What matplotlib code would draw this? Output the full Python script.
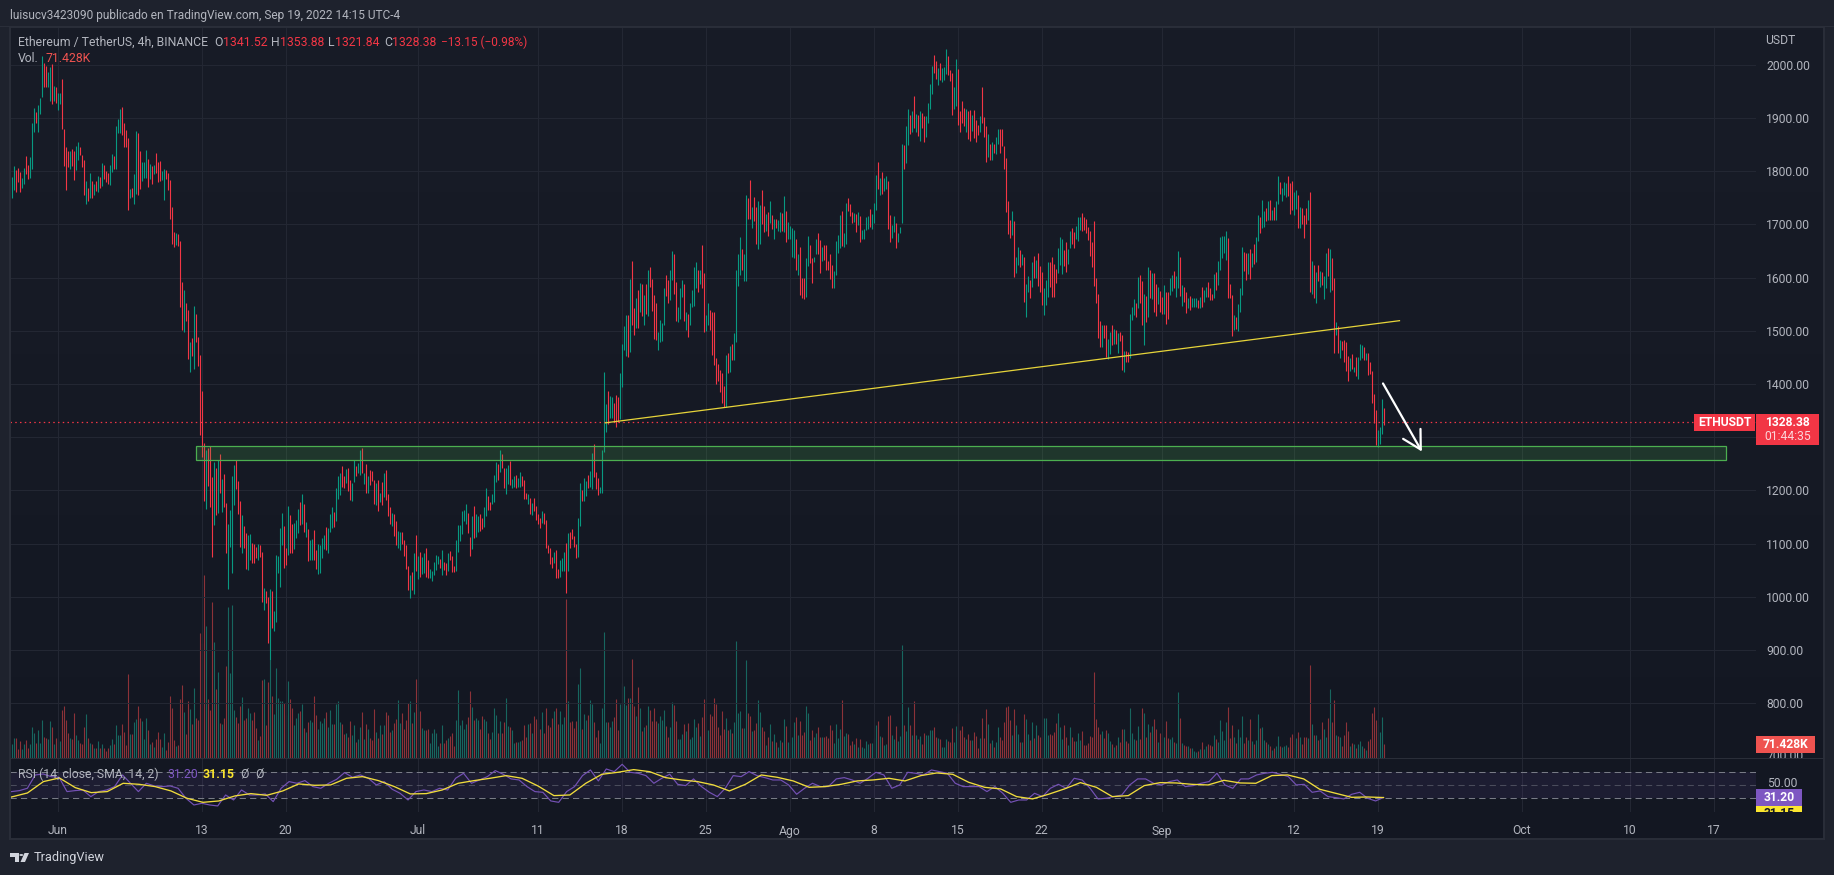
import numpy as np
import matplotlib
matplotlib.use("Agg")
import matplotlib.pyplot as plt
from matplotlib.colors import LinearSegmentedColormap
from matplotlib.patches import Rectangle, Polygon, Circle
from matplotlib.transforms import Bbox

plt.rcParams['font.family'] = ['Roboto', 'DejaVu Sans']

# 4h candles, ETHUSDT
highs = [
    1789,1809,1803,1806,1798,1788,1806,1828,1811,1826, 1890,1919,1912,1924,1937,2016,2004,1998,1987,1995,
    2001,1960,1959,1947,1947,1973,1880,1845,1838,1837, 1841,1838,1848,1854,1846,1830,1821,1782,1769,1796,
    1782,1776,1782,1791,1789,1816,1812,1801,1796,1812, 1832,1829,1885,1898,1917,1920,1890,1877,1863,1766,
    1769,1794,1875,1872,1838,1818,1818,1840,1823,1813, 1810,1812,1834,1818,1819,1801,1805,1802,1796,1783,
    1732,1686,1683,1682,
    1669,1591,1577,1552,1540,1478,1486,1547,1532,1488,1454,
    1386,1289,1276,1280,1283,1225,1253,1243,1258,1268, 1221,1231,1176,1137,1163,1227,1248,1257,1218,1180,
    1154,1133,1119,1116,1118,1102,1100,1093,1099,1097, 1084,1016,1010,999,1014,1010,973,1079,1077,1129,
    1157,1133,1091,1171,1154,1137,1138,1144,1165,1179, 1193,1174,1140,1127,1107,1108,1126,1088,1099,1097,
    1110,1116,1132,1129,1156,1168,1160,1204,1227,1232, 1246,1227,1240,1242,1220,1213,1257,1246,1252,1276,
    1279,1233,1250,1227,1238,1237,1220,1213,1220,1196, 1215,1233,1238,1193,1169,1157,1156,1143,1124,1121,
    1122,1107,1097,1058,1041,1047,1083,1116,1077,1085, 1075,1082,1091,1069,1052,1049,1065,1079,1077,1071,
    1088,1066,1063,1082,1087,1077,1058,1107,1135,1135, 1162,1163,1174,1157,1112,1152,1171,1156,1151,1156,
    1149,1168,1204,1190,1179,1193,1229,1253,1250,1276, 1268,1242,1242,1248,1255,1221,1227,1229,1223,1234,
    1227,1220,1195,1193,1186,1177,1186,1171,1156,1148, 1161,1157,1144,1097,1091,1074,1085,1088,1052,1069,
    1072,1084,1102,1119,1121,1127,1114,1100,1148,1213, 1201,1223,1218,1229,1237,1270,1287,1235,1223,1206,
    1276,
    1422,1362,1387,1377,1376,1365,1380,1376,1421,1475, 1509,1530,1530,1597,1631,1543,1562,1577,1589,1588,
    1567,1588,1614,1620,1597,1567,1553,1498,1520,1515, 1580,1605,1595,1614,1650,1644,1591,1545,1581,1595,
    1587,1536,1531,1553,1577,1620,1629,1614,1614,1662, 1608,1530,1553,1539,1536,1536,1448,1437,1426,1420,
    1396,1454,1458,1471,1475,1495,1614,1644,1676,1653, 1644,1755,1749,1783,1732,1751,1732,1744,1736,1765,
    1735,1720,1723,1744,1718,1710,1711,1708,1723,1721, 1753,1725,1704,1697,1694,1689,1672,1644,1658,1599,
    1599,1636,1678,1661,1636,1639,1672,1683,1671,1658, 1662,1662,1631,1644,1624,1612,1669,1680,1718,1725,
    1683,1741,1749,1738,1723,1721,1719,1724,1716,1689, 1692,1713,1716,1729,1719,1740,1793,1817,1787,1798,
    1787,1790,1782,1718,1699,1716,1702,1684,1696,
    1852,1849,1885,1917,1906,1913,1941,1907,1906,1913, 1909,1904,1904,1929,1964,1998,2018,2007,1994,2003,
    1993,1996,2029,2016,1990,1984,1959,2011,1992,1914, 1932,1918,1916,1914,1915,1906,1915,1897,1887,1904,
    1959,1901,1885,1870,1852,1854,1852,1865,1880,1879, 1879,1847,1825,1744,1708,1725,1706,1638,1657,1651,
    1644,1638,1587,1603,1595,1629,1640,1633,1646,1622, 1610,1580,1595,1629,1629,1638,1625,1617,1655,1677,
    1672,1651,1667,1653,1688,1693,1686,1697,1713,1714, 1721,1714,1711,1696,1688,1667,1706,1599,1569,1518,
    1510,1511,1510,1484,1498,1511,1503,1501,1495,1498, 1492,1462,1462,1461,1532,1545,1559,1552,1602,1605,
    1594,1569,1565,1619,1614,1608,1609,1587,1583,1575, 1563,1586,1573,1572,1599,1605,1612,1603,1650,1639,
    1586,1582,1573,1561,1565,1561,1562,1561,1557,1564, 1582,1577,1582,1592,1580,1570,1607,1611,1631,1677,
    1678,1678,1688,1674,1588,1567,1530,1525,1550,1581, 1657,1649,1647,1646,1653,1647,1663,1677,1717,1714,
    1746,1725,1731,1744,1745,1727,1733,1744,1790,1779, 1769,1779,1777,1790,1777,1781,1761,1765,1755,1732,
    1730,1718,1730,1746,1760,1631,1623,1610,1623,1612, 1611,1603,1646,1655,1654,1636,1599,1517,1509,1483,
    1480,1483,1478,1453,1449,1456,1432,1451,1450,1475, 1473,1469,1459,1459,1442,1424,1382,1352,1313,1320,
    1371,1354,
]
lows = [
    1749,1765,1761,1780,1761,1769,1776,1794,1786,1787, 1804,1873,1890,1873,1907,1940,1959,1959,1959,1932,
    1927,1932,1929,1915,1926,1880,1810,1765,1807,1804, 1809,1783,1803,1821,1831,1808,1756,1739,1744,1749,
    1749,1756,1763,1761,1769,1773,1785,1780,1776,1774, 1798,1804,1805,1871,1871,1868,1846,1846,1727,1749,
    1751,1738,1757,1756,1766,1781,1787,1787,1771,1785, 1776,1794,1796,1780,1782,1783,1746,1785,1765,1710,
    1663,1658,1661,1660,
    1545,1502,1497,1519,1447,1423,1453,1428,1478,1433,1304,
    1263,1181,1165,1208,1169,1075,1135,1154,1158,1196, 1160,1169,1083,1015,1094,1045,1173,1203,1156,1094,
    1083,1091,1052,1050,1069,1064,1064,1072,1070,1075, 990,975,989,914,881,941,936,953,1044,1019,
    1097,1054,1060,1079,1083,1082,1089,1110,1119,1135, 1137,1122,1113,1068,1069,1070,1069,1052,1043,1045,
    1072,1089,1088,1083,1121,1129,1132,1143,1184,1191, 1206,1204,1213,1198,1182,1181,1215,1227,1233,1229,
    1232,1212,1196,1196,1210,1218,1174,1173,1162,1179, 1173,1188,1182,1152,1137,1133,1114,1097,1091,1088,
    1099,1077,1053,1012,998,1013,1005,1049,1034,1037, 1043,1045,1037,1035,1035,1029,1041,1050,1062,1054,
    1041,1050,1041,1049,1069,1047,1046,1049,1085,1104, 1118,1143,1137,1119,1077,1089,1111,1112,1121,1124,
    1127,1132,1151,1164,1164,1174,1179,1215,1220,1235, 1243,1205,1193,1212,1210,1205,1206,1204,1207,1207,
    1208,1183,1183,1174,1156,1154,1162,1144,1137,1129, 1138,1137,1092,1083,1062,1054,1063,1035,1035,1038,
    1049,1049,1008,1049,1091,1108,1094,1072,1074,1134, 1181,1181,1190,1204,1206,1203,1226,1202,1191,1195,
    1196,
    1273,1310,1325,1337,1337,1329,1320,1329,1335,1395, 1463,1453,1450,1461,1511,1492,1506,1505,1536,1527,
    1511,1532,1527,1583,1537,1484,1483,1464,1478,1481, 1510,1566,1553,1557,1595,1570,1518,1517,1523,1563,
    1519,1502,1489,1511,1545,1547,1581,1573,1588,1580, 1498,1500,1511,1501,1454,1436,1400,1406,1385,1364,
    1356,1356,1421,1423,1446,1445,1478,1584,1605,1614, 1594,1594,1711,1711,1694,1707,1663,1654,1664,1701,
    1686,1688,1678,1702,1691,1672,1694,1688,1686,1688, 1686,1666,1672,1672,1639,1636,1615,1605,1567,1562,
    1560,1564,1622,1627,1590,1629,1645,1644,1608,1632, 1633,1614,1614,1597,1581,1581,1605,1647,1655,1660,
    1657,1664,1725,1716,1703,1705,1686,1699,1667,1672, 1672,1689,1692,1696,1692,1702,1727,1766,1755,1758,
    1762,1766,1691,1667,1675,1686,1656,1667,1684,
    1703,1804,1815,1849,1870,1874,1882,1874,1866,1857, 1881,1854,1865,1891,1917,1946,1985,1973,1962,1971,
    1968,1971,1982,1981,1969,1906,1917,1923,1887,1873, 1890,1884,1874,1860,1857,1876,1862,1854,1868,1874,
    1890,1865,1818,1826,1821,1821,1835,1833,1851,1835, 1847,1805,1724,1682,1674,1680,1602,1609,1624,1619,
    1624,1555,1525,1572,1562,1583,1599,1600,1584,1572, 1548,1530,1548,1564,1583,1564,1564,1589,1608,1624,
    1607,1621,1611,1625,1655,1663,1655,1672,1668,1689, 1688,1689,1684,1671,1640,1620,1584,1552,1487,1470,
    1470,1486,1451,1447,1456,1473,1476,1475,1459,1480, 1426,1423,1441,1442,1448,1521,1530,1525,1543,1552,
    1510,1473,1517,1526,1561,1559,1536,1528,1550,1535, 1531,1531,1513,1523,1567,1575,1580,1564,1580,1565,
    1547,1555,1533,1542,1540,1545,1545,1544,1542,1542, 1545,1555,1563,1564,1557,1558,1561,1577,1586,1614,
    1636,1646,1633,1561,1561,1490,1501,1503,1499,1535, 1567,1612,1595,1606,1597,1619,1625,1630,1669,1684,
    1694,1696,1706,1709,1709,1708,1708,1708,1739,1757, 1744,1756,1752,1754,1719,1727,1718,1729,1694,1693,
    1700,1674,1701,1708,1573,1569,1561,1553,1594,1583, 1586,1560,1581,1603,1572,1577,1459,1492,1459,1448,
    1463,1442,1425,1406,1425,1429,1423,1415,1409,1445, 1448,1446,1446,1417,1418,1365,1326,1286,1281,1288,
    1306,1322,
]
candle_dirs = (
    "uuddd" "uuddu" "uuduu" "udduu" "duduu" "ddddu" "dduud" "ddudu" "dudud" "udddu"
    "uduuu" "ddddu" "duudd" "uuudu" "duddd" "uuddd" "ddud"
    "ddudd" "ududd" "d"
    "ddudd" "dudud" "udduu" "uuddd" "udduu" "dddud" "duddu" "duuuu" "uddud" "duuud"
    "ududu" "udduu" "uuduu" "uduuu" "ddudd" "uuduu" "dudud" "ddudu" "duddd" "udduu"
    "ddddu" "dudud" "uuddu" "uuuud" "uddud" "dduuu" "uuudd" "uduud" "duudd" "uuudu"
    "dduud" "uuduu" "dddud" "udddd" "udddd" "duddu" "uudud" "ddduu" "duudu" "udddu" "u"
    "uuduu" "ddduu" "uudud" "dudud" "ududd" "dduuu" "udduu" "dduuu" "duduu" "uudud"
    "duudd" "ddddd" "dudud" "uuuud" "uuddu" "dduud" "dudud" "uduud" "uduuu" "ududd"
    "duudd" "uuddu" "ddddd" "uuuud" "uuddd" "ududu" "uuudu" "uudud" "uuddu" "uduu"
    "uduud" "ududu" "dduuu" "uddud" "uuudd" "duudd" "ddudd" "udddu" "dddud" "uduud"
    "ddddd" "uduud" "uduud" "ududd" "duuud" "ddduu" "udduu" "dduuu" "ddddd" "ddddd"
    "udduu" "dudud" "duddu" "uudud" "dudud" "uddud" "duddu" "uduud" "uddud" "uuudu"
    "duudd" "duduu" "uuudd" "duduu" "uddud" "uduud" "uudud" "uduud" "uuudd" "duudu"
    "dddud" "ududu" "duudu" "ddudu" "ddddu" "duduu" "ududd" "ddduu" "ud"
)

# volume per bar, thousands of ETH
volume = [
    70,104,104,44,85,44,70,90,49,73,156,129,78,141,75,192,105,100,95,187,
    156,70,100,95,85,243,264,192,126,100,95,228,116,90,75,70,156,223,100,75,
    70,49,49,85,53,70,49,34,49,65,95,70,167,116,116,172,131,65,427,121,
    121,182,197,264,202,187,95,202,141,70,80,54,95,131,95,54,126,39,80,315,
    253,90,60,65,299,371,233,121,289,248,172,355,202,192,636,585,933,672,299,243,
    794,590,350,437,177,172,202,468,768,432,779,243,207,177,264,309,192,202,253,228,
    192,233,151,90,110,396,401,167,386,498,315,223,457,304,289,289,279,218,391,299,
    253,167,202,228,238,274,151,131,182,192,182,315,218,146,187,177,202,233,156,243,
    172,172,274,289,182,172,121,126,105,187,116,167,80,95,156,233,95,172,146,100,
    90,248,131,100,167,121,167,233,218,131,141,177,197,294,177,228,146,192,279,289,
    177,233,401,258,238,151,141,141,146,75,126,146,126,60,75,167,75,90,100,110,
    126,60,192,345,167,192,146,172,207,340,258,192,202,192,146,212,197,187,126,95,
    131,253,218,126,187,126,182,304,161,156,141,75,80,80,85,90,167,105,172,177,
    126,212,197,177,146,233,126,253,167,156,202,238,253,172,238,172,207,809,289,182,
    187,151,187,376,457,146,223,192,218,294,274,182,105,141,75,253,641,182,182,156,
    187,207,299,141,274,381,366,269,304,304,503,264,212,360,253,136,156,167,264,243,
    187,253,187,177,212,192,243,161,105,156,284,269,187,95,95,121,172,136,177,95,
    105,197,156,177,110,
    211,303,143,143,226,216,306,277,160,119,241,150,206,143,150,129,185,598,231,241,
    155,155,502,231,216,139,145,180,298,236,160,139,68,109,175,88,124,83,58,94,
    83,201,165,83,78,109,185,211,119,190,119,134,267,231,94,145,109,129,160,109,
    109,109,114,104,170,145,78,175,104,150,298,114,129,124,68,88,73,104,58,99,
    58,53,88,73,78,78,104,170,190,114,109,68,73,216,221,119,99,165,88,114,
    578,170,139,262,170,119,292,119,99,114,73,129,119,119,145,145,160,109,104,99,
    58,58,99,88,83,155,83,165,231,145,165,109,99,124,94,94,134,114,53,104,
    206,104,252,175,78,94,58,83,160,109,94,185,262,267,196,119,252,170,124,83,
    83,226,201,124,94,185,104,170,119,109,145,206,206,119,124,119,134,180,231,160,
    99,170,109,68,160,109,88,88,129,94,139,68,68,78,114,109,440,201,160,124,
    139,104,145,129,88,73,58,68,109,83,150,150,88,78,257,129,99,94,165,99,
    257,231,109,175,134,165,201,150,83,129,83,109,190,104,99,109,83,78,338,206,
    78,68,63,63,53,53,37,32,37,48,83,48,63,73,68,63,119,99,83,196,
    139,94,185,262,104,170,109,78,150,109,216,78,109,94,201,88,73,94,226,155,
    160,94,83,73,63,43,53,63,114,63,58,63,68,58,109,124,73,104,134,109,
    73,109,109,104,476,175,119,119,94,99,185,150,109,206,354,185,298,119,114,109,
    63,119,185,139,63,78,73,53,73,88,63,53,43,88,99,231,262,196,170,134,
    211,71.428,
]

# RSI(14), one reading every few bars, and its SMA
rsi = [
    40.3,41.8,45.4,65.9,67.4,63.3,62.3,40.3,41.8,42.8,32.6,40.3,42.8,48,65.9,53.1,40.3,53.1,49,48,
    49,45.4,30,19.7,22.3,19.7,18.2,35.1,27.4,42.8,35.1,35.1,36.7,24.9,45.4,55.7,53.1,57.2,48,45.4,
    53.1,59.2,69.5,62.3,65.9,60.8,50.5,55.7,43.9,37.7,27.4,40.3,42.8,40.3,45.4,42.8,60.8,68.5,53.1,58.2,
    63.3,72.6,67,59.8,58.2,48,40.3,39.2,25.9,23.8,40.3,48,64.9,73.6,56.7,75.1,71,82.3,70,68.5,
    64.9,53.1,60.8,67,51.5,49.5,59.8,48,39.2,32.6,45.4,64.9,63.3,71,64.9,61.8,58.2,58.2,50.5,36.2,
    45.4,53.1,48,48,59.8,61.8,58.2,53.1,60.8,70,65.9,45.4,50.5,70,68.5,65.9,73.6,71,68.5,53.1,
    48,48,48,40.3,48,37.7,23.8,27.4,27.4,37.7,32.6,45.4,51.5,45.4,60.8,58.2,45.4,29,30,32.6,
    35.1,50.5,59.8,59.8,53.1,50.5,55.7,58.2,48,49.5,53.1,55.7,68.5,50.5,45.4,59.8,59.8,65.9,68.5,70,
    66.9,63.3,50.5,51.5,39.2,41.3,32.6,31,29,36.2,39.2,30,25.9,31.2,
]
rsi_sma = [
    32,38.2,55.7,61.3,46.4,38.7,40.3,53.1,51.5,48,41.3,30,23.8,25.9,33.6,37.2,34.6,41.3,52.1,50,
    50.5,60.8,63.3,57.2,48,36.7,37.2,42.8,53.1,57.2,60.8,
    64.9,60.8,49,34.1,35.1,53.1,66.9,70,74.1,71,61.8,58.2,55.7,50.5,41.3,51.5,65.9,62.3,56.7,46.9,
    48,51.5,56.7,58.2,60.8,
    56.7,64.9,69,66.9,54.6,46.9,44.4,32.6,29,36.2,44.4,54.1,46.9,32.6,34.1,49.5,54.1,53.6,51.5,50.5,
    57.7,53.6,53.1,64.9,65.9,59.8,43.9,37.7,31.5,32,31.15,
]

price_ticks = list(range(800, 2001, 100))
time_ticks = [23, 95, 137, 203, 263, 305, 347, 389, 431, 473, 515, 575, 641, 683, 755, 809, 851]
time_labels = ["Jun", "13", "20", "Jul", "11", "18", "25", "Ago", "8", "15", "22", "Sep", "12", "19", "Oct", "10", "17"]

last_price = 1328.38
zone_low, zone_high = 1258, 1283
zone_bars = (92, 857)
trend_bars = (297, 694)
trend_prices = (1327, 1519)
arrow_bars = (685.75, 705.2)
arrow_prices = (1401, 1273)

assert len(highs) == len(lows) == len(candle_dirs) == len(volume), (len(highs), len(lows), len(candle_dirs), len(volume))

W, H = 1834, 875
BG = '#1e222d'
PANE = '#131722'
TXT = '#b2b5be'
RED = '#f23645'
TEAL = '#089981'
GRID = '#232733'
GRID_LW = 0.72
CANDLE_LW = 0.8


def pane(x0, y0, x1, y1):
    return fig.add_axes([x0 / W, 1 - y1 / H, (x1 - x0) / W, (y1 - y0) / H])


def box(x0, y0, x1, y1, color):
    fig.add_artist(Rectangle((x0 / W, 1 - y1 / H), (x1 - x0) / W, (y1 - y0) / H, transform=fig.transFigure,
                             facecolor=color, edgecolor='none', zorder=10))


def label(x, y, s, color=TXT, size=8.7, **kw):
    kw.setdefault('va', 'center')
    return fig.text(x / W, 1 - y / H, s, color=color, fontsize=size, zorder=11, **kw)


fig = plt.figure(figsize=(W / 100, H / 100), dpi=100, facecolor=BG)

# back plate with the soft top to bottom shading
ax_back = pane(10, 27, 1824, 839)
ax_back.set_zorder(0)
shade = LinearSegmentedColormap.from_list('shade', ['#181c27', PANE])
ax_back.imshow(np.linspace(0, 1, 256)[:, None], cmap=shade, aspect='auto', extent=(0, 1, 0, 1))
ax_back.axis('off')
fig.add_artist(Rectangle((10 / W, 1 - 839 / H), 1814 / W, 812 / H, transform=fig.transFigure,
                         facecolor='none', edgecolor='#2a2e39', linewidth=1.4, zorder=9))
fig.add_artist(Rectangle((0, 1 - 26.5 / H), 1, 1 / H, transform=fig.transFigure, facecolor='#2a2e39',
                         edgecolor='none', zorder=9))

x = np.arange(len(highs))
up = np.array([c == 'u' for c in candle_dirs])
xlim = (-0.75, 872.25)

# volume underneath
ax_vol = pane(10, 27, 1756, 758)
ax_vol.set_zorder(1)
ax_vol.patch.set_visible(False)
ax_vol.vlines(x, 0, volume, colors=np.where(up, '#17665f', '#8c3238'), linewidth=CANDLE_LW)
ax_vol.set_xlim(xlim)
ax_vol.set_ylim(0, 731 * 5.1)
ax_vol.axis('off')

# price pane
ax = pane(10, 27, 1756, 758)
ax.set_zorder(2)
ax.patch.set_visible(False)
ax.set_xlim(xlim)
ax.set_ylim(697, 2071)
ax.set_xticks(time_ticks)
ax.set_xticklabels([])
ax.set_yticks(price_ticks)
# the 1300 label sits behind the last price tag
ax.set_yticklabels(["" if p == 1300 else f"{p:.2f}" for p in price_ticks], color=TXT, fontsize=8.7)
ax.yaxis.tick_right()
ax.tick_params(length=0, pad=7.5)
ax.grid(True, color=GRID, linewidth=GRID_LW)
ax.set_axisbelow(True)
for s in ax.spines.values():
    s.set_visible(False)

ax.vlines(x, lows, highs, colors=np.where(up, TEAL, RED), linewidth=CANDLE_LW, zorder=3)
ax.axhline(last_price, color=RED, linewidth=0.9, linestyle=(0, (1.2, 2.6)), zorder=4)
ax.add_patch(Rectangle((zone_bars[0], zone_low), zone_bars[1] - zone_bars[0], zone_high - zone_low,
                       facecolor='#4caf50', alpha=0.2, edgecolor='none', zorder=4))
ax.add_patch(Rectangle((zone_bars[0], zone_low), zone_bars[1] - zone_bars[0], zone_high - zone_low,
                       facecolor='none', edgecolor='#4caf50', linewidth=0.9, zorder=4))
ax.plot(trend_bars, trend_prices, color='#e6d43a', linewidth=0.9, zorder=5)
ax.annotate('', xy=(arrow_bars[1], arrow_prices[1]), xytext=(arrow_bars[0], arrow_prices[0]),
            arrowprops=dict(arrowstyle='->,head_length=0.65,head_width=0.36', color='white', lw=1.6,
                            shrinkA=0, shrinkB=0, mutation_scale=20), zorder=6)

# RSI pane
ax_rsi = pane(10, 758, 1756, 812)
ax_rsi.set_zorder(2)
ax_rsi.patch.set_visible(False)
ax_rsi.set_xlim(xlim)
ax_rsi.set_ylim(8.9, 92)
ax_rsi.set_xticks(time_ticks)
ax_rsi.set_xticklabels(time_labels, color=TXT, fontsize=8.7)
ax_rsi.set_yticks([])
ax_rsi.tick_params(length=0, pad=9)
ax_rsi.grid(True, axis='x', color=GRID, linewidth=GRID_LW)
ax_rsi.set_axisbelow(True)
for s in ax_rsi.spines.values():
    s.set_visible(False)
ax_rsi.axhspan(30, 70, facecolor='#7e57c2', alpha=0.1, edgecolor='none')
ax_rsi.axhline(70, color='#787b86', linewidth=0.75, linestyle=(0, (6, 4)))
ax_rsi.axhline(50, color='#787b86', linewidth=0.75, linestyle=(0, (6, 4)), alpha=0.5)
ax_rsi.axhline(30, color='#787b86', linewidth=0.75, linestyle=(0, (6, 4)))
ax_rsi.plot(np.linspace(0, x[-1], len(rsi)), rsi, color='#7451b5', linewidth=0.85, zorder=3)
ax_rsi.plot(np.linspace(0, x[-1], len(rsi_sma)), rsi_sma, color='#f0dc3c', linewidth=0.95, zorder=4)

# pane divider
fig.add_artist(Rectangle((10 / W, 1 - 758.5 / H), 1814 / W, 1 / H, transform=fig.transFigure,
                         facecolor='#2a2e39', edgecolor='none', zorder=9))

# texts on top and the legend rows
label(10, 15, "luisucv3423090 publicado en TradingView.com, Sep 19, 2022 14:15 UTC-4", size=8.6)
label(18, 42, "Ethereum / TetherUS, 4h, BINANCE", size=8.8)
label(214, 42, "O", size=8.8)
label(223, 42, "1341.52", RED, size=8.8)
label(271, 42, "H", size=8.8)
label(280, 42, "1353.88", RED, size=8.8)
label(328, 42, "L", size=8.8)
label(335, 42, "1321.84", RED, size=8.8)
label(384, 42, "C", size=8.8)
label(392, 42, "1328.38", RED, size=8.8)
label(441, 42, "\u221213.15 (\u22120.98%)", RED, size=8.6)
label(18, 59, "Vol.", size=8.8)
label(46, 59, "71.428K", '#ef5350', size=8.8)
label(18, 774, "RSI (14, close, SMA, 14, 2)", size=8.8)
label(167, 774, "31.20", '#7e57c2', size=8.8)
label(203, 774, "31.15", '#fbe62f', size=8.8, fontweight='bold')
label(240, 774, "\u00d8", size=8.8)
label(255, 774, "\u00d8", size=8.8)
label(1765, 41, "USDT")
label(1767, 783.5, "50.00")

# clipped 700 tick under the volume tag
cut = label(1767, 756.4, "700.00")
cut.set_clip_on(True)
cut.set_clip_box(Bbox.from_extents(1756, H - 758, 1824, H - 752.7))

# price, volume and RSI tags
box(1694, 414, 1755, 431, RED)
label(1724.5, 422.5, "ETHUSDT", 'white', ha='center', fontweight='bold')
box(1756, 414, 1819, 445, RED)
label(1787.5, 422.5, "1328.38", 'white', ha='center', fontweight='bold')
label(1787.5, 437, "01:44:35", '#fbd5d9', ha='center')
box(1756, 736, 1815, 752.7, '#ef5350')
label(1785.5, 745, "71.428K", 'white', ha='center', fontweight='bold')
box(1756, 789, 1802, 805.7, '#7e57c2')
label(1779, 797.5, "31.20", 'white', ha='center', fontweight='bold')
box(1756, 806, 1802, 812, '#fbe62f')
cut_sma = label(1779, 813.5, "31.15", '#131722', ha='center', fontweight='bold')
cut_sma.set_clip_on(True)
cut_sma.set_clip_box(Bbox.from_extents(1756, H - 812, 1802, H - 806))

# TradingView mark and name
logo = '#d1d4dc'
fig.add_artist(Polygon([(10 / W, 1 - 853 / H), (19 / W, 1 - 853 / H), (19 / W, 1 - 862 / H), (15 / W, 1 - 862 / H),
                        (15 / W, 1 - 857 / H), (10 / W, 1 - 857 / H)], transform=fig.transFigure,
                       facecolor=logo, edgecolor='none', zorder=10))
fig.add_artist(Polygon([(24.5 / W, 1 - 853 / H), (29 / W, 1 - 853 / H), (25 / W, 1 - 862 / H), (20.5 / W, 1 - 862 / H)],
                       transform=fig.transFigure, facecolor=logo, edgecolor='none', zorder=10))
fig.add_artist(Circle((21.3 / W, 1 - 855 / H), 2 / W, transform=fig.transFigure, facecolor=logo, edgecolor='none', zorder=10))
label(34, 857, "TradingView", '#d1d4dc', size=9.2)

fig.savefig("out.png", dpi=100, facecolor=BG)
